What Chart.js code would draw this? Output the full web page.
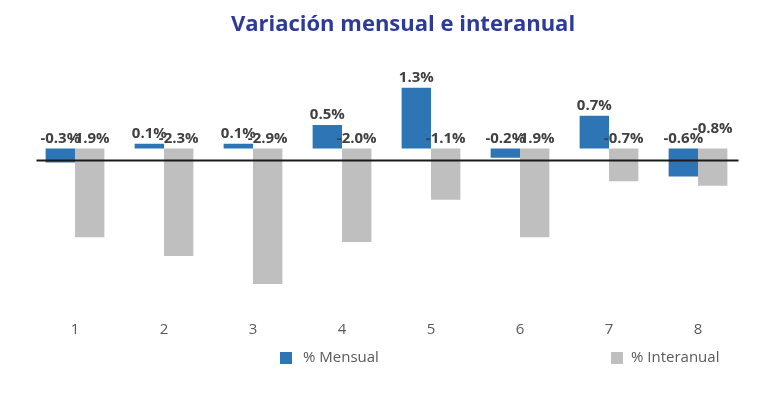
<!DOCTYPE html>
<html>
<head>
<meta charset="utf-8">
<script src="https://cdn.jsdelivr.net/npm/chart.js@4.4.1/dist/chart.umd.min.js"></script>
<style>
  html, body { margin: 0; padding: 0; background: #fff; }
  #wrap { width: 768px; height: 394px; position: relative; }
</style>
</head>
<body>
<div id="wrap"><canvas id="grafico"></canvas></div>
<script>
// datos
const meses = ["1", "2", "3", "4", "5", "6", "7", "8"];
const mensual = [-0.3, 0.1, 0.1, 0.5, 1.3, -0.2, 0.7, -0.6];
const interanual = [-1.9, -2.3, -2.9, -2.0, -1.1, -1.9, -0.7, -0.8];
const nombresSeries = ["% Mensual", "% Interanual"];
const tituloGrafico = "Variación mensual e interanual";
const lineaBase = -0.24; // la linea negra del original no cae en el cero

const colores = ["#2E75B6", "#BFBFBF"];
const fuente = "'Open Sans', 'Noto Sans', sans-serif";

// titulo, etiquetas de datos y leyenda dibujados a mano
const extras = {
  id: "extras",
  afterDatasetsDraw(chart) {
    const ctx = chart.ctx;
    const area = chart.chartArea;
    const y = chart.scales.y;

    // linea horizontal
    const yl = Math.round(y.getPixelForValue(lineaBase)) + 0.5;
    ctx.save();
    ctx.strokeStyle = "#1a1a1a";
    ctx.lineWidth = 2;
    ctx.beginPath();
    ctx.moveTo(area.left + 6, yl);
    ctx.lineTo(area.right - 4, yl);
    ctx.stroke();

    // etiquetas
    ctx.font = "bold 15px " + fuente;
    ctx.fillStyle = "#404040";
    ctx.textAlign = "center";
    ctx.textBaseline = "middle";
    chart.data.datasets.forEach((ds, d) => {
      const meta = chart.getDatasetMeta(d);
      meta.data.forEach((bar, i) => {
        const v = ds.data[i];
        let ty = y.getPixelForValue(Math.max(v, 0)) - 10;
        if (d === 1 && i === 7) ty -= 10;
        ctx.fillText(v.toFixed(1) + "%", bar.x, ty);
      });
    });
    ctx.restore();
  },
  afterDraw(chart) {
    const ctx = chart.ctx;
    ctx.save();
    ctx.font = "bold 22px " + fuente;
    ctx.fillStyle = "#2E3A97";
    ctx.textAlign = "center";
    ctx.textBaseline = "middle";
    ctx.fillText(tituloGrafico, 403, 25);

    // leyenda
    const posX = [280, 611];
    const sep = [23, 20];
    ctx.font = "15px " + fuente;
    ctx.textAlign = "left";
    nombresSeries.forEach((n, k) => {
      ctx.fillStyle = colores[k];
      ctx.fillRect(posX[k], 352, 12, 12);
      ctx.fillStyle = "#595959";
      ctx.fillText(n, posX[k] + sep[k], 358);
    });
    ctx.restore();
  }
};

const ctx = document.getElementById("grafico").getContext("2d");
const chart = new Chart(ctx, {
  type: "bar",
  data: {
    labels: meses,
    datasets: [
      { label: nombresSeries[0], data: mensual, backgroundColor: colores[0] },
      { label: nombresSeries[1], data: interanual, backgroundColor: colores[1] }
    ]
  },
  options: {
    responsive: true,
    maintainAspectRatio: false,
    animation: false,
    categoryPercentage: 0.66,
    barPercentage: 1.0,
    layout: { padding: { left: 30.5, right: 25.5, top: 55, bottom: 46 } },
    plugins: {
      legend: { display: false },
      title: { display: false },
      tooltip: { enabled: false }
    },
    scales: {
      x: {
        grid: { display: false, drawTicks: false },
        border: { display: false },
        ticks: { padding: 9, color: "#595959", font: { family: fuente, size: 15 } }
      },
      y: {
        display: false,
        min: -3.5,
        max: 2.0
      }
    }
  },
  plugins: [extras]
});
</script>
</body>
</html>
